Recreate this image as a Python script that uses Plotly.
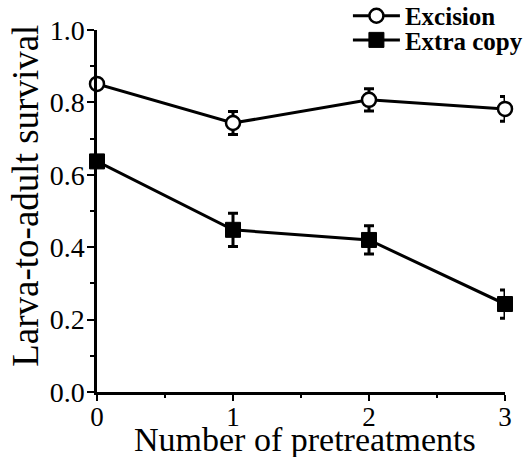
import plotly.graph_objects as go

pretreatments = [0, 1, 2, 3]
excision = [0.851, 0.743, 0.807, 0.782]
excision_err = [0.012, 0.032, 0.031, 0.034]
extra_copy = [0.637, 0.448, 0.420, 0.243]
extra_copy_err = [0.012, 0.046, 0.039, 0.039]

font_fam = "Liberation Serif, Times New Roman, serif"
legend_font = dict(family=font_fam, size=25, color="black", weight="bold")

fig = go.Figure()
fig.add_trace(go.Scatter(
    x=pretreatments, y=excision, name="Excision", mode="lines+markers",
    line=dict(color="black", width=3),
    marker=dict(symbol="circle", size=14, color="white", line=dict(color="black", width=2.5)),
    error_y=dict(type="data", array=excision_err, color="black", thickness=3, width=5),
    cliponaxis=False, legend="legend",
))
fig.add_trace(go.Scatter(
    x=pretreatments, y=extra_copy, name="Extra copy", mode="lines+markers",
    line=dict(color="black", width=3),
    marker=dict(symbol="square", size=15, color="black", line=dict(color="black", width=1)),
    error_y=dict(type="data", array=extra_copy_err, color="black", thickness=3, width=5),
    cliponaxis=False, legend="legend2",
))

fig.update_layout(
    width=532, height=457,
    margin=dict(l=97, r=27, t=30, b=65, autoexpand=False),
    paper_bgcolor="white", plot_bgcolor="white",
    font=dict(family=font_fam, color="black"),
    showlegend=True,
    legend=dict(x=0.615, y=1.0387, xanchor="left", yanchor="middle",
                font=legend_font, bgcolor="rgba(0,0,0,0)", itemwidth=47),
    legend2=dict(x=0.615, y=0.972, xanchor="left", yanchor="middle",
                 font=legend_font, bgcolor="rgba(0,0,0,0)", itemwidth=47),
    xaxis=dict(range=[0, 3], tickvals=[0, 1, 2, 3], ticktext=["0", "1", "2", "3"],
               showline=True, linecolor="black", linewidth=2.5, showgrid=False, zeroline=False,
               ticks="outside", ticklen=6, tickwidth=2, tickcolor="black",
               tickfont=dict(size=27, family=font_fam), automargin=False, ticklabelstandoff=-7,
               minor=dict(tickvals=[0.5, 1.5, 2.5], ticks="outside", ticklen=3, tickwidth=2, tickcolor="black")),
    yaxis=dict(range=[0, 1.0], tickvals=[0, 0.2, 0.4, 0.6, 0.8, 1.0],
               ticktext=["0.0", "0.2", "0.4", "0.6", "0.8", "1.0"],
               showline=True, linecolor="black", linewidth=2.5, showgrid=False, zeroline=False,
               ticks="outside", ticklen=7, tickwidth=2, tickcolor="black",
               tickfont=dict(size=28, family=font_fam), automargin=False, ticklabelstandoff=-3,
               minor=dict(tickvals=[0.1, 0.3, 0.5, 0.7, 0.9], ticks="outside", ticklen=4, tickwidth=2, tickcolor="black")),
    annotations=[
        dict(text="Number of pretreatments", xref="paper", yref="paper",
             x=0.51, y=-0.13, xanchor="center", yanchor="middle", showarrow=False,
             font=dict(size=34, family=font_fam, color="black")),
        dict(text="Larva-to-adult survival", xref="paper", yref="paper", textangle=-90,
             x=-0.175, y=0.541, xanchor="center", yanchor="middle", showarrow=False,
             font=dict(size=37, family=font_fam, color="black")),
    ],
)

fig.write_html("out.html")
